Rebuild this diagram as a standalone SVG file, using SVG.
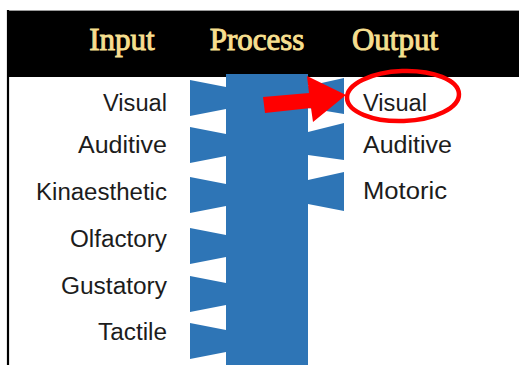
<svg xmlns="http://www.w3.org/2000/svg" width="519" height="365" viewBox="0 0 519 365">
<style>
.hdr{font-family:"Liberation Serif","Times New Roman",serif;font-size:31px;fill:#F6DF8F;stroke:#F6DF8F;stroke-width:1px;text-anchor:middle}
.lbl{font-family:"Liberation Sans",Arial,sans-serif;font-size:23px;fill:#1c1c1c}
.in{text-anchor:end}
.blue{fill:#2E75B6}
.red{fill:#FF0000}
</style>
<rect x="0" y="0" width="519" height="365" fill="#ffffff"/>
<g id="header">
<rect x="7" y="10" width="512" height="67" fill="#000000"/>
<line x1="7" y1="10.5" x2="519" y2="10.5" stroke="#9a9a9a" stroke-width="1"/>
<text class="hdr" x="122" y="50">Input</text>
<text class="hdr" x="257" y="50">Process</text>
<text class="hdr" x="395" y="50">Output</text>
</g>
<line x1="8" y1="10" x2="8" y2="365" stroke="#000000" stroke-width="2.2"/>
<g id="connectors" class="blue">
<path d="M190,80 L226,87 L226,109 L190,116 Z"/>
<path d="M190,127 L226,134 L226,156 L190,163 Z"/>
<path d="M190,177 L226,184 L226,206 L190,213 Z"/>
<path d="M190,228 L226,235 L226,257 L190,264 Z"/>
<path d="M190,276 L226,283 L226,305 L190,312 Z"/>
<path d="M190,323 L226,330 L226,352 L190,359 Z"/>
<path d="M308,86 L344,78 L344,114 L308,108 Z"/>
<path d="M308,132 L344,123 L344,160 L308,155 Z"/>
<path d="M308,180 L344,172 L344,211 L308,204 Z"/>
</g>
<g id="process">
<rect class="blue" x="226" y="74" width="82" height="291"/>
</g>
<g id="inputs">
<text class="lbl in" x="167" y="111" textLength="64" lengthAdjust="spacingAndGlyphs">Visual</text>
<text class="lbl in" x="167" y="153" textLength="89" lengthAdjust="spacingAndGlyphs">Auditive</text>
<text class="lbl in" x="167" y="200" textLength="131" lengthAdjust="spacingAndGlyphs">Kinaesthetic</text>
<text class="lbl in" x="167" y="247" textLength="97" lengthAdjust="spacingAndGlyphs">Olfactory</text>
<text class="lbl in" x="167" y="294" textLength="106" lengthAdjust="spacingAndGlyphs">Gustatory</text>
<text class="lbl in" x="167" y="340" textLength="69" lengthAdjust="spacingAndGlyphs">Tactile</text>
</g>
<g id="outputs">
<text class="lbl" x="363" y="111" textLength="64" lengthAdjust="spacingAndGlyphs">Visual</text>
<text class="lbl" x="363" y="153" textLength="89" lengthAdjust="spacingAndGlyphs">Auditive</text>
<text class="lbl" x="363" y="199" textLength="84" lengthAdjust="spacingAndGlyphs">Motoric</text>
</g>
<g id="highlight">
<polygon class="red" points="263,97 265,113 311,108 313,122 346,95 307,76 309,93"/>
<ellipse cx="403" cy="96" rx="56" ry="25" fill="none" stroke="#FF0000" stroke-width="4.5" transform="rotate(-2 403 96)"/>
</g>
</svg>
